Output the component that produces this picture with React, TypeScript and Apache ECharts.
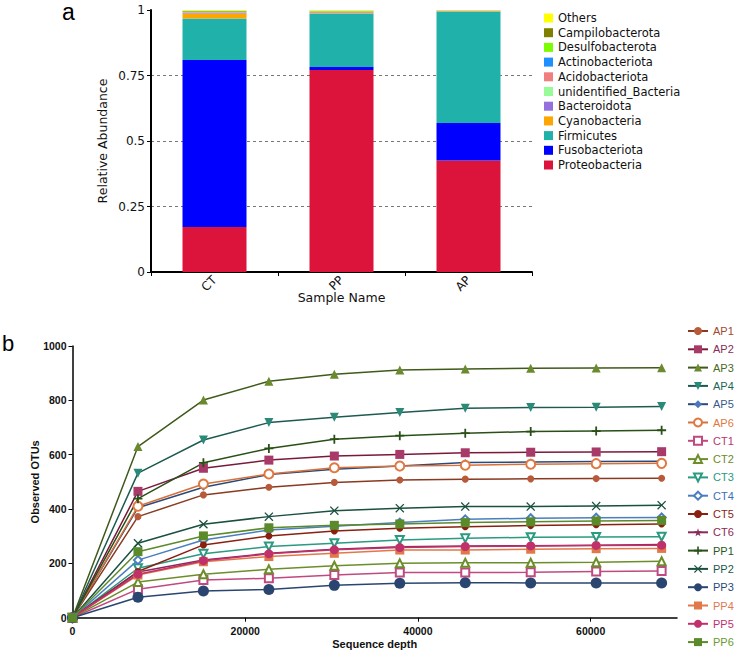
import React, { useEffect, useRef } from "react";
import * as echarts from "echarts";

// ---------- Panel a: relative abundance ----------
const samples = ["CT", "PP", "AP"];
const phyla = [
  "Proteobacteria",
  "Fusobacteriota",
  "Firmicutes",
  "Cyanobacteria",
  "Bacteroidota",
  "unidentified_Bacteria",
  "Acidobacteriota",
  "Actinobacteriota",
  "Desulfobacterota",
  "Campilobacterota",
  "Others",
];
const phylumColors = [
  "#DC143C",
  "#0000FF",
  "#20B2AA",
  "#FFA500",
  "#9370DB",
  "#98FB98",
  "#F08080",
  "#1E90FF",
  "#7CFC00",
  "#808000",
  "#FFFF00",
];
const proteobacteria = [0.172, 0.771, 0.426];
const fusobacteriota = [0.637, 0.011, 0.143];
const firmicutes = [0.159, 0.205, 0.424];
const cyanobacteria = [0.019, 0.003, 0.001];
const bacteroidota = [0.003, 0.002, 0.001];
const unidentifiedBacteria = [0.001, 0.001, 0.0005];
const acidobacteriota = [0.001, 0.001, 0.0005];
const actinobacteriota = [0.002, 0.001, 0.001];
const desulfobacterota = [0.001, 0.001, 0.0005];
const campilobacterota = [0.001, 0.001, 0.0005];
const others = [0.004, 0.003, 0.002];
const abundance = [
  proteobacteria,
  fusobacteriota,
  firmicutes,
  cyanobacteria,
  bacteroidota,
  unidentifiedBacteria,
  acidobacteriota,
  actinobacteriota,
  desulfobacterota,
  campilobacterota,
  others,
];
const abundanceTicks = [0, 0.25, 0.5, 0.75, 1];

// ---------- Panel b: rarefaction curves ----------
const depth = [0, 7580, 15160, 22740, 30320, 37900, 45480, 53060, 60640, 68220];
const AP1 = [0, 372, 452, 480, 498, 507, 510, 511, 512, 513];
const AP2 = [0, 465, 550, 580, 595, 601, 607, 609, 610, 611];
const AP3 = [0, 630, 801, 870, 896, 912, 915, 918, 919, 920];
const AP4 = [0, 532, 654, 718, 738, 755, 771, 774, 775, 777];
const AP5 = [0, 405, 480, 527, 546, 558, 571, 573, 575, 576];
const AP6 = [0, 410, 492, 529, 552, 558, 561, 565, 567, 568];
const CT1 = [0, 105, 139, 145, 157, 166, 166, 167, 170, 172];
const CT2 = [0, 131, 160, 178, 191, 200, 202, 202, 204, 208];
const CT3 = [0, 182, 235, 262, 274, 286, 292, 296, 297, 298];
const CT4 = [0, 212, 286, 323, 337, 350, 362, 366, 368, 369];
const CT5 = [0, 170, 268, 301, 319, 329, 335, 339, 342, 345];
const CT6 = [0, 168, 212, 237, 252, 261, 264, 265, 267, 269];
const PP1 = [0, 438, 570, 623, 657, 670, 679, 685, 687, 690];
const PP2 = [0, 274, 344, 372, 394, 403, 409, 409, 411, 414];
const PP3 = [0, 75, 98, 104, 119, 127, 129, 128, 128, 128];
const PP4 = [0, 157, 206, 225, 237, 249, 249, 252, 254, 255];
const PP5 = [0, 160, 210, 235, 250, 258, 262, 264, 266, 267];
const PP6 = [0, 243, 301, 331, 340, 345, 350, 353, 356, 358];
const sampleNames = [
  "AP1", "AP2", "AP3", "AP4", "AP5", "AP6",
  "CT1", "CT2", "CT3", "CT4", "CT5", "CT6",
  "PP1", "PP2", "PP3", "PP4", "PP5", "PP6",
];
const otus = [AP1, AP2, AP3, AP4, AP5, AP6, CT1, CT2, CT3, CT4, CT5, CT6, PP1, PP2, PP3, PP4, PP5, PP6];
const markerColors = [
  "#b85a3a", "#a83a6a", "#6b8a2e", "#2a8a78", "#4a78b8", "#e07840",
  "#c04a80", "#6b8e2a", "#2a9a80", "#4a7ec0", "#8a2010", "#8a2a5a",
  "#2a5018", "#1a5040", "#2a4670", "#e0784a", "#c0306a", "#5a8a2a",
];
const lineColors = [
  "#8a3a20", "#7a1a3a", "#3f5a1a", "#1e5a50", "#2a4a7a", "#d8703a",
  "#c04a80", "#6b8e2a", "#2a9a80", "#4a7ec0", "#8a2010", "#8a2a5a",
  "#2a5018", "#1a5040", "#2a4670", "#e0784a", "#c0306a", "#5a8a2a",
];
const legendTextColors = [
  "#a04a30", "#8a2a55", "#4a6a22", "#1e6656", "#3a5a8a", "#e07840",
  "#b8386e", "#6b8a2a", "#2a9a80", "#3a70b8", "#8a2515", "#8a2a55",
  "#2a5a1a", "#1a5a4a", "#2a4a7a", "#e07850", "#c03070", "#6a9a30",
];

const PLUS = "path://M4,0H6V4H10V6H6V10H4V6H0V4H4Z";
const CROSS = "path://M1,0L5,4L9,0L10,1L6,5L10,9L9,10L5,6L1,10L0,9L4,5L0,1Z";
const STAR = "path://M5,0L6.2,3.6L10,3.6L7,5.9L8.1,9.5L5,7.3L1.9,9.5L3,5.9L0,3.6L3.8,3.6Z";
const symbols = [
  "circle", "rect", "triangle", "triangle", "diamond", "emptyCircle",
  "emptyRect", "emptyTriangle", "emptyTriangle", "emptyDiamond", "circle", STAR,
  PLUS, CROSS, "circle", "rect", "circle", "rect",
];
const symbolRotates = [0, 0, 0, 180, 0, 0, 0, 0, 180, 0, 0, 0, 0, 0, 0, 0, 0, 0];
const symbolSizes = [7, 9, 9, 9, 7, 9, 8, 8, 8, 8, 7, 8, 9, 9, 11, 9, 9, 9];

export default function App() {
  const ref = useRef<HTMLDivElement>(null);

  useEffect(() => {
    document.body.style.margin = "0";
    if (!ref.current) return;
    const chart = echarts.init(ref.current, undefined, { renderer: "svg" });

    const fontA = "DejaVu Sans";
    const fontB = "Liberation Sans";
    const plain = (v: number) => String(v);

    const barSeries = phyla.map((p, i) => ({
      name: p,
      type: "bar",
      stack: "total",
      xAxisIndex: 0,
      yAxisIndex: 0,
      barWidth: 64,
      itemStyle: { color: phylumColors[i] },
      data: abundance[i],
    }));

    const lineSeries = sampleNames.map((n, i) => {
      const empty = String(symbols[i]).startsWith("empty");
      return {
        name: n,
        type: "line",
        xAxisIndex: 1,
        yAxisIndex: 1,
        data: depth.map((d, j) => [d, otus[i][j]]),
        symbol: symbols[i],
        symbolSize: symbolSizes[i],
        symbolRotate: symbolRotates[i],
        showAllSymbol: true,
        lineStyle: { color: lineColors[i], width: 1.5 },
        itemStyle: empty
          ? { color: markerColors[i], borderColor: markerColors[i], borderWidth: 2 }
          : { color: markerColors[i], borderWidth: 0 },
        emphasis: { disabled: true },
      };
    });

    chart.setOption({
      animation: false,
      textStyle: { fontFamily: fontA },
      graphic: [
        {
          type: "text",
          left: 62,
          top: 0,
          style: { text: "a", font: "23px 'Liberation Sans'", lineHeight: 8, fill: "#000" },
        },
        {
          type: "text",
          left: 2,
          top: 332,
          style: { text: "b", font: "22px 'Liberation Sans'", fill: "#000" },
        },
      ],
      grid: [
        { left: 151, top: 10, width: 381, height: 262 },
        { left: 72.5, top: 346, width: 604.5, height: 271.7 },
      ],
      legend: [
        {
          orient: "vertical",
          left: 544,
          top: 12,
          padding: 0,
          itemWidth: 9,
          itemHeight: 9,
          itemGap: 2.7,
          icon: "rect",
          textStyle: { fontFamily: fontA, fontSize: 11.5, color: "#111" },
          data: [...phyla].reverse(),
        },
        {
          orient: "vertical",
          left: 687,
          top: 325.5,
          padding: 0,
          itemWidth: 20,
          itemHeight: 10,
          itemGap: 7.3,
          textStyle: { fontFamily: fontB, fontSize: 11 },
          data: sampleNames.map((n, i) => ({ name: n, textStyle: { color: legendTextColors[i] } })),
        },
      ],
      xAxis: [
        {
          type: "category",
          gridIndex: 0,
          data: samples,
          name: "Sample Name",
          nameLocation: "middle",
          nameGap: 19,
          nameMoveOverlap: false,
          nameTextStyle: { fontFamily: fontA, fontSize: 12.5, color: "#111" },
          axisLine: { lineStyle: { color: "#000", width: 2 } },
          axisTick: { show: true, length: 4, lineStyle: { color: "#000" } },
          axisLabel: { rotate: 45, margin: 6, fontFamily: fontA, fontSize: 12, color: "#111" },
        },
        {
          type: "value",
          gridIndex: 1,
          min: 0,
          max: 70000,
          interval: 20000,
          name: "Sequence depth",
          nameLocation: "middle",
          nameGap: 21,
          nameMoveOverlap: false,
          nameTextStyle: { fontFamily: fontB, fontSize: 11, fontWeight: "bold", color: "#111" },
          axisLine: { lineStyle: { color: "#000", width: 1.5 } },
          axisTick: { show: true, length: 4, lineStyle: { color: "#000" } },
          axisLabel: {
            showMaxLabel: false,
            formatter: plain,
            margin: 8,
            fontFamily: fontB,
            fontSize: 10.5,
            fontWeight: "bold",
            color: "#111",
          },
          splitLine: { show: false },
        },
      ],
      yAxis: [
        {
          type: "value",
          gridIndex: 0,
          min: abundanceTicks[0],
          max: abundanceTicks[abundanceTicks.length - 1],
          interval: 0.25,
          name: "Relative Abundance",
          nameLocation: "middle",
          nameGap: 42,
          nameMoveOverlap: false,
          nameTextStyle: { fontFamily: fontA, fontSize: 12.5, color: "#111" },
          axisLine: { show: true, lineStyle: { color: "#000", width: 2 } },
          axisTick: { show: true, length: 4, lineStyle: { color: "#000" } },
          axisLabel: { margin: 6, fontFamily: fontA, fontSize: 12, color: "#111" },
          splitLine: {
            show: true,
            showMaxLine: false,
            showMinLine: false,
            lineStyle: { color: "#777", type: [3, 3], width: 1 },
          },
        },
        {
          type: "value",
          gridIndex: 1,
          min: 0,
          max: 1000,
          interval: 200,
          name: "Observed OTUs",
          nameLocation: "middle",
          nameGap: 32,
          nameMoveOverlap: false,
          nameTextStyle: { fontFamily: fontB, fontSize: 11, fontWeight: "bold", color: "#111" },
          axisLine: { show: true, lineStyle: { color: "#000", width: 1.5 } },
          axisTick: { show: true, length: 4, lineStyle: { color: "#000" } },
          axisLabel: {
            formatter: plain,
            margin: 6,
            fontFamily: fontB,
            fontSize: 10.5,
            fontWeight: "bold",
            color: "#111",
          },
          splitLine: { show: false },
        },
      ],
      series: [...barSeries, ...lineSeries],
    });

    return () => chart.dispose();
  }, []);

  return <div ref={ref} style={{ width: 737, height: 653 }} />;
}
